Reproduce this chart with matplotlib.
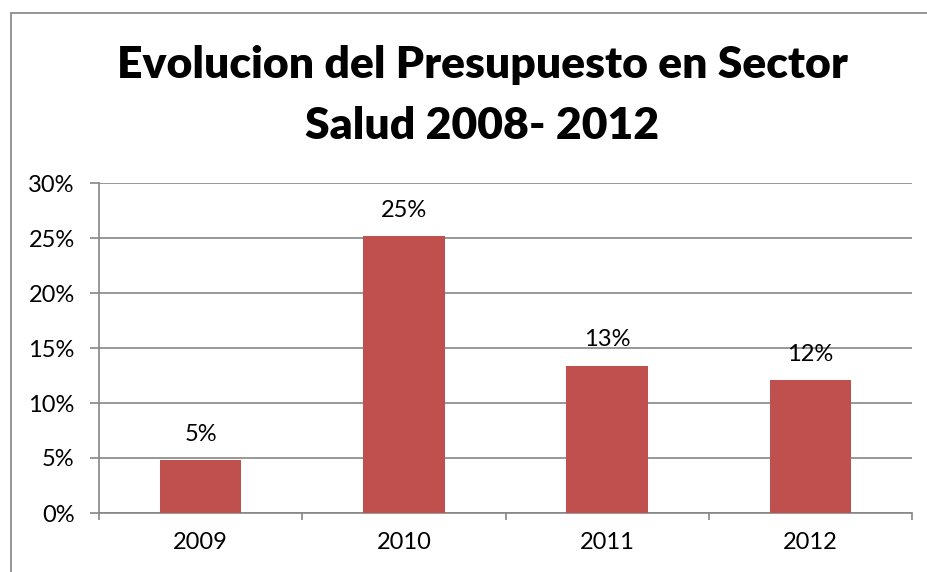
import matplotlib
matplotlib.use("Agg")
import matplotlib.pyplot as plt
from matplotlib.patches import Rectangle
from matplotlib.ticker import FuncFormatter, MultipleLocator

years = ["2009", "2010", "2011", "2012"]
values = [4.8, 25.2, 13.4, 12.1]
labels = ["5%", "25%", "13%", "12%"]
title_lines = ["Evolucion del Presupuesto en Sector", "Salud 2008- 2012"]

plt.rcParams['font.family'] = ['Lato', 'DejaVu Sans']

W, H = 928, 572
fig = plt.figure(figsize=(W/100, H/100), dpi=100)
fig.patch.set_facecolor('white')

# outer chart border (left and top visible; right/bottom off image)
fig.add_artist(Rectangle((11/W, -0.1), 1.2, 1.1 - 13/H, transform=fig.transFigure,
                         fill=False, edgecolor='#8c8c8c', linewidth=1.3))

ax = fig.add_axes([99/W, 1 - 513/H, (912-99)/W, (513-183)/H])
x = list(range(len(years)))
ax.bar(x, values, width=0.4, color='#C0504D', zorder=3)
ax.set_xlim(-0.5, len(years) - 0.5)
ax.set_ylim(0, 30)
ax.yaxis.set_major_locator(MultipleLocator(5))
ax.yaxis.set_major_formatter(FuncFormatter(lambda v, p: f"{int(round(v))}%"))
ax.grid(axis='y', color='#868686', linewidth=1.2, zorder=0)
ax.set_axisbelow(True)
for s in ['top', 'right']:
    ax.spines[s].set_visible(False)
for s in ['left', 'bottom']:
    ax.spines[s].set_color('#868686')
    ax.spines[s].set_linewidth(1.2)

ax.set_xticks(x)
ax.set_xticklabels(years, fontsize=17)
ax.tick_params(axis='x', length=0, pad=14)
ax.set_xticks([i + 0.5 for i in range(-1, len(years))], minor=True)
ax.tick_params(axis='x', which='minor', length=5, width=1.2, color='#868686', direction='out')
ax.tick_params(axis='y', length=6.5, width=1.2, color='#868686', labelsize=17, pad=11)

for xi, v, lab in zip(x, values, labels):
    ax.annotate(lab, (xi, v), xytext=(0, 11), textcoords='offset points',
                ha='center', va='bottom', fontsize=17)

fig.text(482/W, 1 - 65/H, title_lines[0], ha='center', va='center', fontsize=32,
         fontweight='heavy')
fig.text(482/W, 1 - 126/H, title_lines[1], ha='center', va='center', fontsize=32,
         fontweight='heavy')

fig.savefig('out.png', dpi=100)
